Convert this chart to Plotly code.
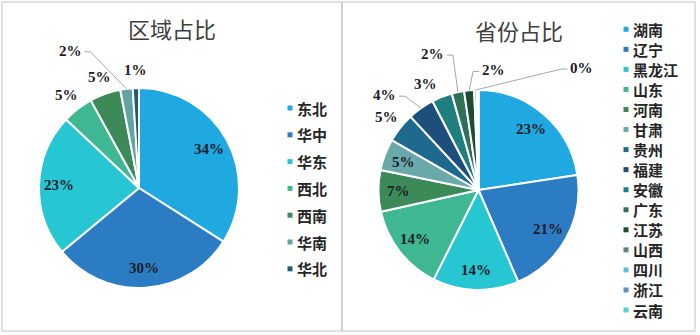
import math
import plotly.graph_objects as go

# ---------------- data ----------------
region_labels = ["东北", "华中", "华东", "西北", "西南", "华南", "华北"]
region_values = [34, 30, 23, 5, 5, 2, 1]

province_labels = ["湖南", "辽宁", "黑龙江", "山东", "河南", "甘肃", "贵州", "福建",
                   "安徽", "广东", "江苏", "山西", "四川", "浙江", "云南"]
province_values = [22.6, 20.9, 13.9, 14.1, 6.7, 5.1, 4.8, 4.3, 3.3, 2.0, 1.6, 0.4, 0.2, 0.1, 0.0]

# ---------------- style ----------------
region_colors = ["#20A8E0", "#2B7CC3", "#27C6D3", "#3FB792", "#3B8A57", "#62A3A4", "#1F5B78"]
province_colors = ["#20A8E0", "#2B7CC3", "#27C6D3", "#3FB792", "#3B8A57", "#6AA9A9", "#1E6A8E",
                   "#1C4F7C", "#1F7F80", "#2F7159", "#1D4D33", "#5A877C", "#5BBFE0", "#5A90C0",
                   "#5AD0D8"]

W, H = 700, 335
FONT_CJK = "Noto Sans CJK SC"
FONT_NUM = "Liberation Serif"
LABEL_COLOR = "#1c1c28"


def paper(x, y):
    return x / W, 1 - y / H


charts = [
    dict(labels=region_labels, values=region_values, colors=region_colors, title="区域占比",
         cx=139, cy=188, r=100, title_xy=(172, 28), inside_min=0.2, min_label=0.003,
         leader={"华南": (-56, -38)}, nudge={},
         legend_x=290, legend_y0=108, legend_dy=26.8),
    dict(labels=province_labels, values=province_values, colors=province_colors, title="省份占比",
         cx=478.5, cy=190, r=100, title_xy=(519, 30), inside_min=0.05, min_label=0.003,
         leader={"福建": (-36, -13), "广东": (-25, -38), "江苏": (24, -20), "山西": (106, -22)},
         nudge={"安徽": (-10, 4)},
         legend_x=626, legend_y0=29.3, legend_dy=20.05),
]

fig = go.Figure()
annotations = []
shapes = []

# panel frames
x0, y0 = paper(2, 2)
x1, y1 = paper(695, 331)
shapes.append(dict(type="rect", xref="paper", yref="paper", x0=x0, y0=y1, x1=x1, y1=y0,
                   line=dict(color="#d6d6d6", width=1.5), fillcolor="rgba(0,0,0,0)"))
xd, _ = paper(342, 0)
shapes.append(dict(type="line", xref="paper", yref="paper", x0=xd, x1=xd, y0=y1, y1=y0,
                   line=dict(color="#d0d0d0", width=2)))

for ch in charts:
    cx, cy, r = ch["cx"], ch["cy"], ch["r"]
    fig.add_trace(go.Pie(
        labels=ch["labels"], values=ch["values"], sort=False, direction="clockwise",
        rotation=0, textinfo="none", hoverinfo="label+percent", showlegend=False,
        marker=dict(colors=ch["colors"], line=dict(color="white", width=2)),
        domain=dict(x=[(cx - r) / W, (cx + r) / W], y=[1 - (cy + r) / H, 1 - (cy - r) / H]),
    ))

    # title
    tx, ty = paper(*ch["title_xy"])
    annotations.append(dict(x=tx, y=ty, xref="paper", yref="paper", text=ch["title"],
                            showarrow=False, xanchor="center", yanchor="middle",
                            font=dict(family=FONT_CJK, size=22, color="#404040")))

    # data labels
    total = sum(ch["values"])
    cum = 0.0
    for lab, v in zip(ch["labels"], ch["values"]):
        f = v / total
        mid = 2 * math.pi * (cum + f / 2)
        cum += f
        if f < ch["min_label"]:
            continue
        s, c = math.sin(mid), -math.cos(mid)
        txt = f"{int(f * 100 + 0.5)}%"
        font = dict(family=FONT_NUM, size=15, color=LABEL_COLOR, weight="bold")
        if f >= ch["inside_min"]:
            px_, py_ = cx + 0.8 * r * s, cy + 0.8 * r * c
        elif lab in ch["leader"]:
            ex, ey = cx + r * s, cy + r * c
            ox, oy = ch["leader"][lab]
            px_, py_ = ex + ox, ey + oy
            side = 1 if ox > 0 else -1
            endx = px_ - side * 14
            elbx = endx - side * 6
            p = [paper(ex, ey), paper(elbx, py_ + 1), paper(endx, py_ + 1)]
            path = "M {:.5f},{:.5f} L {:.5f},{:.5f} L {:.5f},{:.5f}".format(
                p[0][0], p[0][1], p[1][0], p[1][1], p[2][0], p[2][1])
            shapes.append(dict(type="path", xref="paper", yref="paper", path=path,
                               line=dict(color="#a8a8a8", width=1)))
        else:
            nx, ny = ch["nudge"].get(lab, (0, 0))
            px_, py_ = cx + 1.18 * r * s + nx, cy + 1.18 * r * c + ny
        ax, ay = paper(px_, py_)
        annotations.append(dict(x=ax, y=ay, xref="paper", yref="paper", text=txt,
                                showarrow=False, xanchor="center", yanchor="middle", font=font))

    # legend (manual, small square markers)
    for i, (lab, col) in enumerate(zip(ch["labels"], ch["colors"])):
        ly = ch["legend_y0"] + i * ch["legend_dy"]
        lx = ch["legend_x"]
        a0 = paper(lx - 2.5, ly - 2.5)
        a1 = paper(lx + 2.5, ly + 2.5)
        shapes.append(dict(type="rect", xref="paper", yref="paper",
                           x0=a0[0], x1=a1[0], y0=a1[1], y1=a0[1],
                           fillcolor=col, line=dict(width=0)))
        tx, ty = paper(lx + 5, ly)
        annotations.append(dict(x=tx, y=ty, xref="paper", yref="paper", text=lab,
                                showarrow=False, xanchor="left", yanchor="middle",
                                font=dict(family=FONT_CJK, size=15, color="#262626",
                                          weight="bold")))

fig.update_layout(
    width=W, height=H, margin=dict(l=0, r=0, t=0, b=0),
    paper_bgcolor="white", plot_bgcolor="white",
    annotations=annotations, shapes=shapes, showlegend=False,
)

fig.write_html("out.html")
